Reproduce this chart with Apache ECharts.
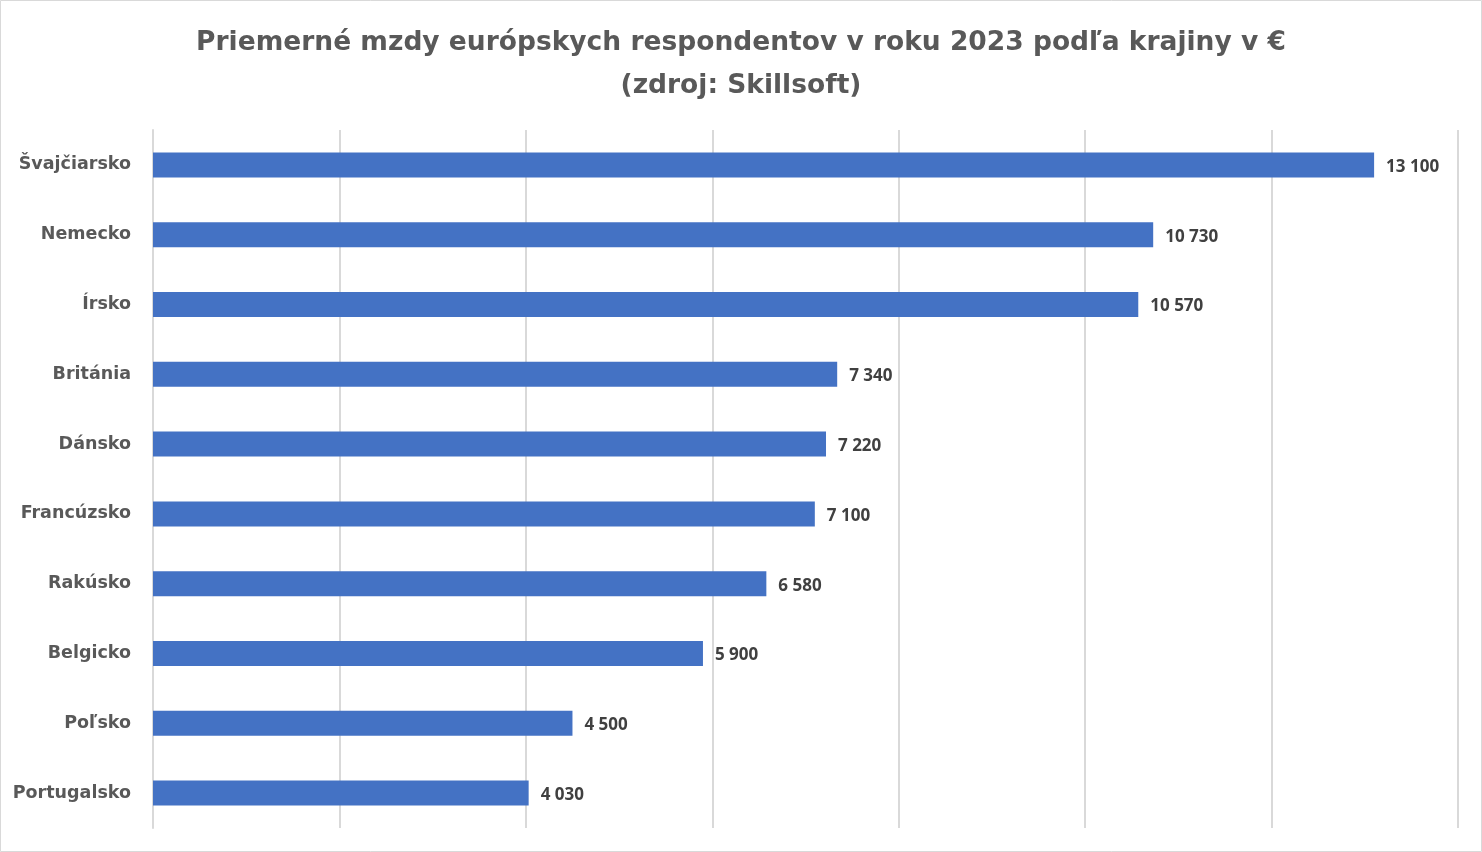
<!DOCTYPE html>
<html><head><meta charset="utf-8">
<script src="https://cdn.jsdelivr.net/npm/echarts@6/dist/echarts.min.js"></script>
<style>html,body{margin:0;padding:0;background:#fff}#c{width:1482px;height:852px}</style>
</head><body><div id="c"></div>
<script>
const categories = ['Švajčiarsko','Nemecko','Írsko','Británia','Dánsko','Francúzsko','Rakúsko','Belgicko','Poľsko','Portugalsko'];
const values = [13100,10730,10570,7340,7220,7100,6580,5900,4500,4030];
const titleLines = ['Priemerné mzdy európskych respondentov v roku 2023 podľa krajiny v €','(zdroj: Skillsoft)'];

function fmt(v){return String(v).replace(/\B(?=(\d{3})+(?!\d))/g,' ');}

const chart = echarts.init(document.getElementById('c'));
chart.setOption({
  animation:false,
  backgroundColor:'#fff',
  graphic:[{type:'rect',shape:{x:0.5,y:0.5,width:1481,height:851},style:{fill:'none',stroke:'#d9d9d9',lineWidth:1},silent:true}],
  title:{text:titleLines.join('\n'),left:'center',top:17,
    textStyle:{fontFamily:'DejaVu Sans',fontWeight:'bold',fontSize:26.5,color:'#595959',lineHeight:43}},
  grid:{left:153,right:24,top:130,bottom:24,containLabel:false},
  xAxis:{type:'value',min:0,max:14000,interval:2000,
    axisLabel:{show:false},axisLine:{show:false},axisTick:{show:false},
    splitLine:{show:true,lineStyle:{color:'#d9d9d9',width:2}}},
  yAxis:{type:'category',data:categories,inverse:true,
    axisLine:{show:true,lineStyle:{color:'#d9d9d9',width:2}},axisTick:{show:false},
    axisLabel:{fontFamily:'DejaVu Sans',fontWeight:'bold',fontSize:17.5,color:'#595959',margin:22,padding:[5,0,0,0]}},
  series:[{type:'bar',data:values,barWidth:25,itemStyle:{color:'#4472C4'},
    label:{show:true,position:'right',distance:12,formatter:p=>fmt(p.value),
      fontFamily:'Open Sans',fontWeight:'bold',fontSize:17,color:'#404040',offset:[0,2]}}]
});
</script></body></html>
